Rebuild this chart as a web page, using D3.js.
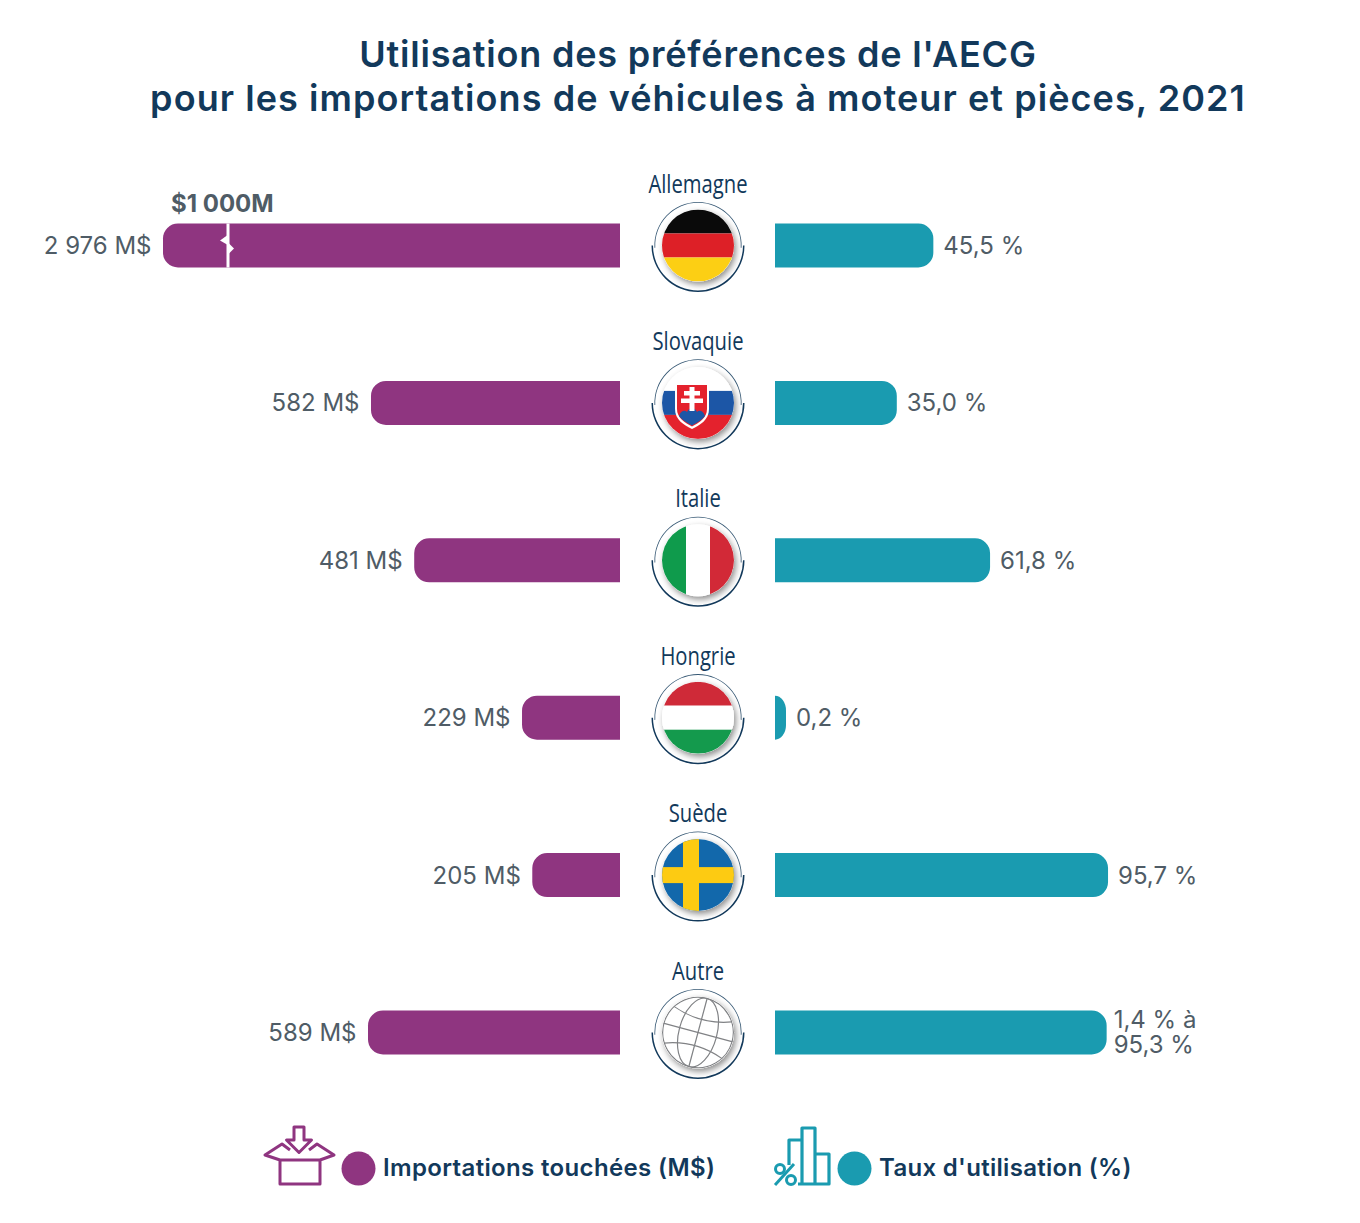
<!DOCTYPE html>
<html><head><meta charset="utf-8">
<script src="https://cdn.jsdelivr.net/npm/d3@7"></script>
<style>html,body{margin:0;background:#fff}svg{display:block}
text{font-family:Inter,"Open Sans",sans-serif}
text.country{font-family:"Open Sans",sans-serif}</style></head><body>
<div id="c"></div>
<script>
const countries=["Allemagne","Slovaquie","Italie","Hongrie","Suède","Autre"];
const imports=[2976,582,481,229,205,589];
const importLabels=["2 976 M$","582 M$","481 M$","229 M$","205 M$","589 M$"];
const rates=[45.5,35.0,61.8,0.2,95.7,95.3];
const rateLabels=[["45,5 %"],["35,0 %"],["61,8 %"],["0,2 %"],["95,7 %"],["1,4 % à","95,3 %"]];
const titleLines=["Utilisation des préférences de l'AECG","pour les importations de véhicules à moteur et pièces, 2021"];
const breakLabel="$1 000M", breakValue=1000;
const legendLabels=["Importations touchées (M$)","Taux d'utilisation (%)"];
const PURPLE="#8f3580",TEAL="#1a9bb0",NAVY="#12395b",GREY="#4f5c66";
const W=1360,H=1223,CX=698,LEFT0=620,RIGHT0=775,BAR=44,RAD=15;

const svg=d3.select("#c").append("svg").attr("width",W).attr("height",H).attr("viewBox",[0,0,W,H]);
const defs=svg.append("defs");
const f=defs.append("filter").attr("id","sh").attr("x","-30%").attr("y","-30%").attr("width","160%").attr("height","160%");
f.append("feDropShadow").attr("dx",2).attr("dy",3).attr("stdDeviation",3).attr("flood-color","#000").attr("flood-opacity",.45);
const R=36;
defs.append("clipPath").attr("id","flagclip").append("circle").attr("r",R);

const y=d3.scalePoint().domain(countries).range([245.5,1032.5]);
// broken axis: linear to the break at $1 000M, compressed beyond it
const xL=d3.scaleLinear().domain([0,589,breakValue,2976]).range([0,252,392,457]);
const xR=d3.scaleLinear().domain([0,100]).range([0,348]);
const MINW=11;

svg.append("g").selectAll("text").data(titleLines).join("text")
 .attr("x",CX).attr("y",(d,i)=>67+i*44).attr("text-anchor","middle")
 .attr("font-size",36).attr("font-weight",600).attr("fill",NAVY).attr("letter-spacing",(d,i)=>i?1.07:.8).text(d=>d);

function bar(x0,w,dir,h,r){ // flat at x0, rounded at far end
 const rx=Math.min(r,w),e=x0+dir*w,sw=dir>0?1:0;
 return `M${x0},${-h/2}L${e-dir*rx},${-h/2}A${rx},${r} 0 0 ${sw} ${e},${-h/2+r}L${e},${h/2-r}A${rx},${r} 0 0 ${sw} ${e-dir*rx},${h/2}L${x0},${h/2}Z`;
}
const rows=svg.append("g").selectAll("g").data(countries).join("g").attr("transform",d=>`translate(0,${y(d)})`);
rows.append("path").attr("fill",PURPLE).attr("d",(d,i)=>bar(LEFT0,xL(imports[i]),-1,BAR,RAD));
rows.append("path").attr("fill",TEAL).attr("d",(d,i)=>bar(RIGHT0,Math.max(xR(rates[i]),MINW),1,BAR,RAD));
rows.append("text").attr("x",(d,i)=>LEFT0-xL(imports[i])-11.5).attr("y",8.5).attr("text-anchor","end")
 .attr("font-size",24).attr("fill",GREY).text((d,i)=>importLabels[i]);
rows.append("text").attr("font-size",24).attr("fill",GREY).each(function(d,i){
 const lines=rateLabels[i],multi=lines.length>1;
 const xx=RIGHT0+Math.max(xR(rates[i]),MINW)+(multi?7:10);
 d3.select(this).selectAll("tspan").data(lines).join("tspan")
  .attr("x",xx).attr("y",(l,j)=>multi?(j*25-4.5):8.5).text(l=>l);
});
rows.append("text").attr("class","country").attr("transform",`translate(${CX},-53) scale(.81,1)`).attr("text-anchor","middle")
 .attr("font-size",25).attr("fill",NAVY).text(d=>d);

// broken-axis marker
const bx=LEFT0-xL(breakValue);
const by=y(countries[0]);
svg.append("g").attr("fill","#fff").call(g=>{
 g.append("rect").attr("x",bx-1.5).attr("y",by-22).attr("width",3).attr("height",44);
 g.append("path").attr("d",`M${bx-1},${by-10}L${bx-8},${by-5}L${bx-1},${by-1}Z`);
 g.append("path").attr("d",`M${bx+1},${by-2}L${bx+6},${by+3}L${bx+1},${by+8}Z`);
});
svg.append("text").attr("x",bx-57).attr("y",212).attr("font-size",24).attr("font-weight",700).attr("fill",GREY).text(breakLabel);

// rings and flags
const ringUp=d3.arc().innerRadius(42.8).outerRadius(43.6).startAngle(-Math.PI/2-.05).endAngle(Math.PI/2+.05);
const ringLow=d3.arc().innerRadius(45).outerRadius(46.5).startAngle(Math.PI/2).endAngle(Math.PI*1.5);
function stripesH(g,c){const h=2*R/c.length;c.forEach((k,i)=>g.append("rect").attr("x",-R).attr("y",-R+i*h).attr("width",2*R).attr("height",h).attr("fill",k));}
function stripesV(g,c){const h=2*R/c.length;c.forEach((k,i)=>g.append("rect").attr("y",-R).attr("x",-R+i*h).attr("height",2*R).attr("width",h).attr("fill",k));}
const drawFlag={
 Allemagne:g=>stripesH(g,["#0a0a0a","#dd2027","#fccf14"]),
 Italie:g=>stripesV(g,["#0f9b4c","#fff","#d22937"]),
 Hongrie:g=>stripesH(g,["#cf2a38","#fff","#149a4d"]),
 Suède:g=>{
  g.append("rect").attr("x",-R).attr("y",-R).attr("width",2*R).attr("height",2*R).attr("fill",'#1268ab');
  g.append("rect").attr("x",-15).attr("y",-R).attr("width",16).attr("height",2*R).attr("fill",'#fdcb12');
  g.append("rect").attr("x",-R).attr("y",-8).attr("width",2*R).attr("height",16).attr("fill",'#fdcb12');
 },
 Slovaquie:g=>{
  stripesH(g,["#fff","#1c56a6","#e4222d"]);
  const s=g.append("g").attr("transform","translate(-6,0)");
  s.append("path").attr("d","M-17,-20H17V6C17,17 8,22 0,26C-8,22 -17,17 -17,6Z").attr("fill","#fff");
  s.append("path").attr("d","M-15,-18H15V6C15,15 7,20 0,23.5C-7,20 -15,15 -15,6Z").attr("fill","#e4222d");
  s.append("path").attr("d","M-13,13C-11,7 -7,7 -5,9C-3,4 3,4 5,9C7,7 11,7 13,13C9,18 4,20 0,22.5C-4,20 -9,18 -13,13Z").attr("fill","#1c56a6");
  s.append("path").attr("fill","#fff").attr("d","M-2.5,-16H2.5V-12H8V-7.5H2.5V-4.5H11V0H2.5V8H-2.5V0H-11V-4.5H-2.5V-7.5H-8V-12H-2.5Z");
 },
 Autre:g=>{
  g.append("circle").attr("r",R).attr("fill","#fff");
  const m=g.append("g").attr("transform","rotate(15)").attr("fill","none").attr("stroke","#808285").attr("stroke-width",1.2);
  m.append("circle").attr("r",R-.7);
  m.append("ellipse").attr("rx",19).attr("ry",R-.7);
  m.append("line").attr("y1",-R).attr("y2",R);
  m.append("line").attr("x1",-R).attr("x2",R);
  m.append("path").attr("d","M-30,-19Q0,-8 30,-19M-30,19Q0,8 30,19");
 }
};
const badge=rows.append("g").attr("transform",`translate(${CX},0)`);
badge.append("path").attr("d",ringUp()).attr("fill",NAVY).attr("opacity",.85);
badge.append("path").attr("d",ringLow()).attr("fill",NAVY);
badge.append("circle").attr("r",R).attr("fill","#fff").attr("filter","url(#sh)");
badge.each(function(d){
 const g=d3.select(this).append("g").attr("clip-path","url(#flagclip)");
 drawFlag[d](g);
});

// legend
const lg=svg.append("g");
lg.append("circle").attr("cx",358.5).attr("cy",1168.5).attr("r",17).attr("fill",PURPLE);
lg.append("circle").attr("cx",854.5).attr("cy",1168.5).attr("r",17).attr("fill",TEAL);
lg.append("text").attr("x",383).attr("y",1176).attr("font-size",24).attr("font-weight",600).attr("fill",NAVY).attr("letter-spacing",.35).text(legendLabels[0]);
lg.append("text").attr("x",879).attr("y",1176).attr("font-size",24).attr("font-weight",600).attr("fill",NAVY).attr("letter-spacing",.3).text(legendLabels[1]);
// box icon
lg.append("path").attr("fill","none").attr("stroke",PURPLE).attr("stroke-width",3).attr("stroke-linejoin","round")
 .attr("d","M280,1160V1184H320V1160M280,1160H320M280,1160L265,1155L282,1144L290,1150M320,1160L334,1155L317,1144L309,1150M294,1127H304V1140H311.5L299,1152.5L286.5,1140H294Z");
// chart icon
lg.append("path").attr("fill","none").attr("stroke",TEAL).attr("stroke-width",3.2).attr("stroke-linejoin","round")
 .attr("d","M789,1165V1140H802M802,1184V1128H815V1184M815,1154H829V1184H798");
lg.append("g").attr("fill","none").attr("stroke",TEAL).attr("stroke-width",3).call(g=>{
 g.append("circle").attr("cx",780).attr("cy",1169).attr("r",4.5);
 g.append("circle").attr("cx",791).attr("cy",1180).attr("r",4.5);
 g.append("line").attr("x1",775).attr("y1",1185).attr("x2",794).attr("y2",1164);
});
</script></body></html>
